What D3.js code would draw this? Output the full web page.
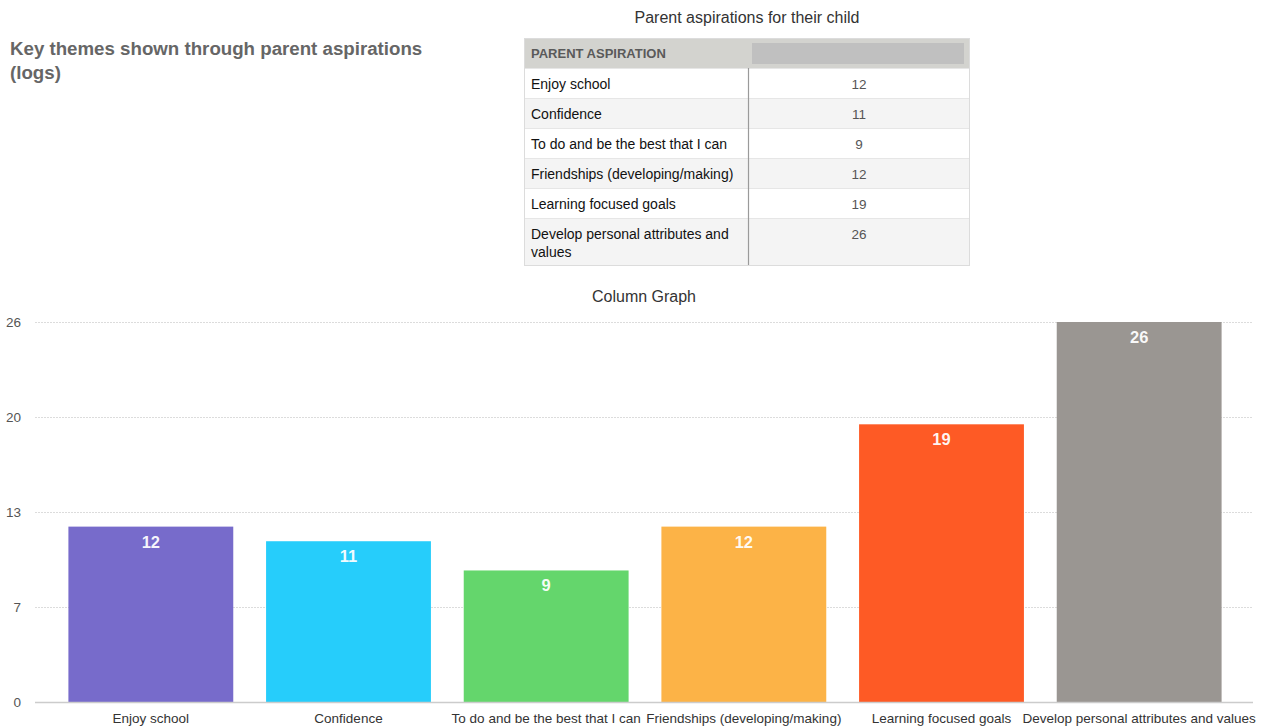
<!DOCTYPE html>
<html>
<head>
<meta charset="utf-8">
<script src="https://cdn.jsdelivr.net/npm/d3@7"></script>
<style>
  html, body { margin: 0; padding: 0; background: #fff; }
  svg { display: block; font-family: "Liberation Sans", Arial, Helvetica, sans-serif; }
</style>
</head>
<body>
<svg id="chart" width="1264" height="726"></svg>
<script>
// Parent aspiration themes and the number of logs for each
const categories = [
  "Enjoy school",
  "Confidence",
  "To do and be the best that I can",
  "Friendships (developing/making)",
  "Learning focused goals",
  "Develop personal attributes and values"
];
const values = [12, 11, 9, 12, 19, 26];
const barColors = ["#776bcb", "#26cdfb", "#64d66c", "#fcb347", "#fe5a25", "#9a9692"];
// Table row labels (the last one wraps onto two lines)
const tableLabels = [
  ["Enjoy school"],
  ["Confidence"],
  ["To do and be the best that I can"],
  ["Friendships (developing/making)"],
  ["Learning focused goals"],
  ["Develop personal attributes and", "values"]
];
const yTickValues = [0, 6.5, 13, 19.5, 26];

const svg = d3.select("#chart");

// ---- Page heading ----
const heading = svg.append("text")
  .attr("x", 10).attr("y", 55)
  .attr("font-size", 18.7).attr("font-weight", "bold").attr("fill", "#666");
heading.append("tspan").attr("x", 10).text("Key themes shown through parent aspirations");
heading.append("tspan").attr("x", 10).attr("dy", 24).text("(logs)");

// ---- Table ----
const tbl = { x: 524, y: 38, w: 446, colX: 748, headerH: 30 };
const rowHeights = [30, 30, 30, 30, 30, 48];

svg.append("text")
  .attr("x", tbl.x + tbl.w / 2).attr("y", 23)
  .attr("text-anchor", "middle").attr("font-size", 16).attr("fill", "#333")
  .text("Parent aspirations for their child");

const tg = svg.append("g");
tg.append("rect")
  .attr("x", tbl.x).attr("y", tbl.y).attr("width", tbl.w).attr("height", tbl.headerH)
  .attr("fill", "#d3d3cf");
tg.append("rect")
  .attr("x", 752).attr("y", 43).attr("width", 212).attr("height", 21)
  .attr("fill", "#c0c0c0");
tg.append("text")
  .attr("x", tbl.x + 7).attr("y", tbl.y + 20)
  .attr("font-size", 13).attr("font-weight", "bold").attr("fill", "#5a5a5a")
  .text("PARENT ASPIRATION");

let rowY = tbl.y + tbl.headerH;
const rowTops = rowHeights.map(h => { const t = rowY; rowY += h; return t; });
const tableBottom = rowY;

const rows = tg.selectAll("g.row")
  .data(values.map((v, i) => ({ v, label: tableLabels[i], y: rowTops[i], h: rowHeights[i], i })))
  .join("g").attr("class", "row");

rows.append("rect")
  .attr("x", tbl.x).attr("y", d => d.y).attr("width", tbl.w).attr("height", d => d.h)
  .attr("fill", d => d.i % 2 === 0 ? "#ffffff" : "#f4f4f4");
rows.append("line")
  .attr("x1", tbl.x).attr("x2", tbl.x + tbl.w)
  .attr("y1", d => d.y + 0.5).attr("y2", d => d.y + 0.5)
  .attr("stroke", "#e6e6e6");
rows.append("text")
  .attr("x", tbl.x + 7).attr("y", d => d.y + 21)
  .attr("font-size", 14).attr("fill", "#111")
  .each(function (d) {
    d3.select(this).selectAll("tspan").data(d.label).join("tspan")
      .attr("x", tbl.x + 7).attr("dy", (s, k) => k === 0 ? 0 : 18).text(s => s);
  });
rows.append("text")
  .attr("x", (tbl.colX + tbl.x + tbl.w) / 2).attr("y", d => d.y + 21)
  .attr("text-anchor", "middle").attr("font-size", 13.5).attr("fill", "#555")
  .text(d => d.v);

// column divider and outer border
tg.append("line")
  .attr("x1", tbl.colX + 0.5).attr("x2", tbl.colX + 0.5)
  .attr("y1", tbl.y + tbl.headerH).attr("y2", tableBottom)
  .attr("stroke", "#9a9a9a").attr("stroke-width", 1.2);
tg.append("rect")
  .attr("x", tbl.x + 0.5).attr("y", tbl.y + 0.5).attr("width", tbl.w - 1).attr("height", tableBottom - tbl.y - 1)
  .attr("fill", "none").attr("stroke", "#dcdcdc");

// ---- Column graph ----
svg.append("text")
  .attr("x", 644).attr("y", 302)
  .attr("text-anchor", "middle").attr("font-size", 16).attr("fill", "#333")
  .text("Column Graph");

const plot = { left: 35, right: 1253, top: 322, bottom: 702 };

const x = d3.scaleBand()
  .domain(categories)
  .range([52, 1238])
  .paddingInner(0.166)
  .paddingOuter(0.083);

const y = d3.scaleLinear()
  .domain([0, 26])
  .range([plot.bottom, plot.top]);

// horizontal grid lines
svg.append("g").selectAll("line")
  .data(yTickValues.filter(t => t > 0))
  .join("line")
  .attr("x1", plot.left).attr("x2", plot.right)
  .attr("y1", d => Math.round(y(d)) + 0.5).attr("y2", d => Math.round(y(d)) + 0.5)
  .attr("stroke", "#dcdcdc").attr("stroke-dasharray", "2,1");

// y axis labels
const yAxis = d3.axisLeft(y)
  .tickValues(yTickValues)
  .tickFormat(d => d3.format(".0f")(d))
  .tickSize(0).tickPadding(0);
svg.append("g")
  .attr("transform", "translate(21,0)")
  .call(yAxis)
  .call(g => g.select(".domain").remove())
  .call(g => g.selectAll("text").attr("font-size", 13.5).attr("fill", "#555")
    .attr("font-family", "'Liberation Sans', Arial, sans-serif"));

// bars
svg.append("g").selectAll("rect")
  .data(values)
  .join("rect")
  .attr("x", (d, i) => x(categories[i]))
  .attr("y", d => y(d))
  .attr("width", x.bandwidth())
  .attr("height", d => y(0) - y(d))
  .attr("fill", (d, i) => barColors[i]);

// value labels inside bar tops
svg.append("g").selectAll("text")
  .data(values)
  .join("text")
  .attr("x", (d, i) => x(categories[i]) + x.bandwidth() / 2)
  .attr("y", d => y(d) + 21)
  .attr("text-anchor", "middle").attr("font-size", 16.5).attr("font-weight", "bold")
  .attr("fill", "#fff").attr("fill-opacity", 0.95)
  .text(d => d);

// baseline
svg.append("line")
  .attr("x1", plot.left).attr("x2", plot.right)
  .attr("y1", y(0) + 0.5).attr("y2", y(0) + 0.5)
  .attr("stroke", "#cccccc").attr("stroke-width", 1.5);

// x axis category labels
const xAxis = d3.axisBottom(x).tickSize(0).tickPadding(11);
svg.append("g")
  .attr("transform", `translate(0,${plot.bottom})`)
  .call(xAxis)
  .call(g => g.select(".domain").remove())
  .call(g => g.selectAll("text").attr("font-size", 13.5).attr("fill", "#333")
    .attr("font-family", "'Liberation Sans', Arial, sans-serif"));
</script>
</body>
</html>
